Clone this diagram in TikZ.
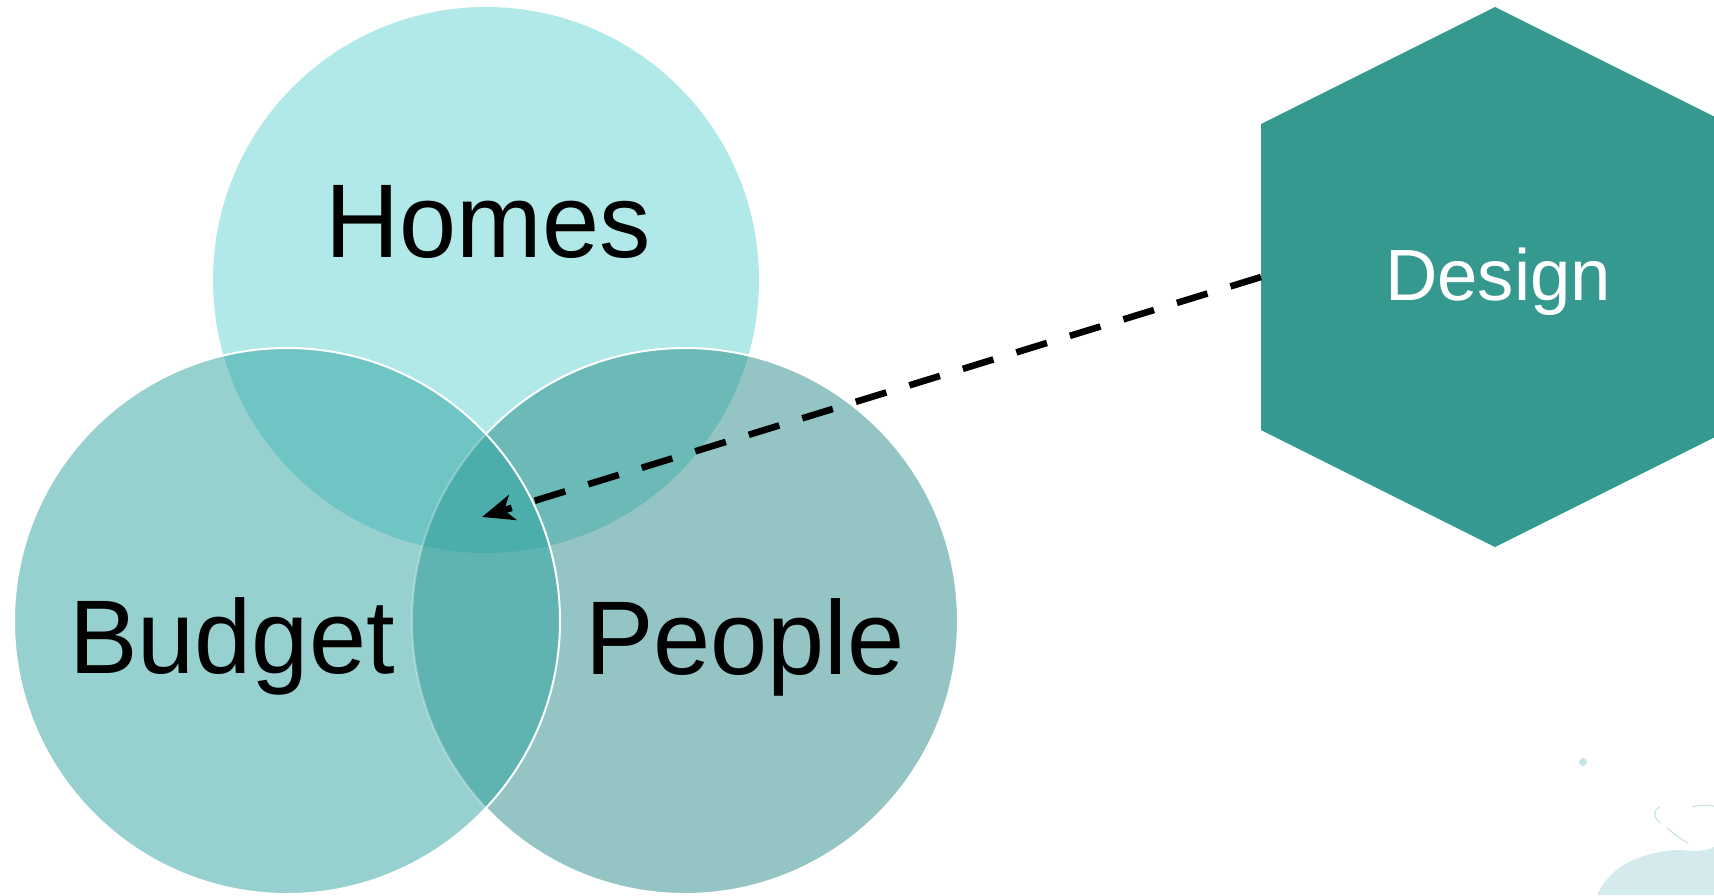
\documentclass[tikz,border=0pt]{standalone}
\usepackage{fontspec}
\setmainfont{Liberation Sans}
\usetikzlibrary{arrows.meta}
\definecolor{cH}{HTML}{B0E9E7}
\definecolor{cB}{HTML}{97D1CF}
\definecolor{cP}{HTML}{94C5C4}
\definecolor{cHB}{HTML}{6FC5C3}
\definecolor{cHP}{HTML}{6BBAB7}
\definecolor{cBP}{HTML}{5FB4B2}
\definecolor{cHBP}{HTML}{4BAEAA}
\definecolor{hexc}{HTML}{35998F}
\definecolor{splash}{HTML}{C6E3E6}
\tikzset{
  bigtext/.style={font=\fontsize{52.4}{60}\selectfont, text=black, inner sep=0pt, anchor=base, xscale=0.98},
  hextext/.style={font=\fontsize{36.3}{42}\selectfont, text=white, inner sep=0pt, anchor=base},
  rim/.style={draw=white, line width=1pt},
  connector/.style={line width=3.3pt, dash pattern=on 16pt off 12pt, -{Stealth[length=16pt,width=13pt,inset=4.5pt]}}
}
\begin{document}
\begin{tikzpicture}[x=0.5pt,y=-0.5pt]
\useasboundingbox (0,0) rectangle (1714,895);
\clip (0,0) rectangle (1714,895);
\coordinate (hC) at (486,280);
\coordinate (bC) at (287,621);
\coordinate (pC) at (685,621);
% circle fills
\fill[cH] (hC) circle[radius=273];
\fill[cB] (bC) circle[radius=273];
\fill[cP] (pC) circle[radius=273];
\begin{scope}
  \clip (hC) circle[radius=273];
  \fill[cHB] (bC) circle[radius=273];
  \fill[cHP] (pC) circle[radius=273];
\end{scope}
\begin{scope}
  \clip (bC) circle[radius=273];
  \fill[cBP] (pC) circle[radius=273];
  \clip (hC) circle[radius=273];
  \fill[cHBP] (pC) circle[radius=273];
\end{scope}
% outlines
\begin{scope}
  \clip (486,0) rectangle (1714,895);
  \draw[rim] (pC) circle[radius=273];
\end{scope}
\begin{scope}
  \clip (0,0) rectangle (486,895);
  \draw[draw=white, draw opacity=0.3, line width=1pt] (pC) circle[radius=273];
\end{scope}
\draw[rim] (bC) circle[radius=273];
% labels
\node[bigtext] (homes) at (488,257) {Homes};
\node[bigtext] (budget) at (232,673) {Budget};
\node[bigtext] (people) at (745,674) {People};
% hexagon
\fill[hexc] (1495,7) -- (1261,124) -- (1261,430) -- (1495,547) -- (1729,430) -- (1729,124) -- cycle;
\node[hextext] (design) at (1498,300) {Design};
\coordinate (hexw) at (1261,277);
\coordinate (tip) at (482,517);
\draw[connector] (hexw) -- (tip);
% watercolor splash
\fill[splash, opacity=0.75] (1597,895) .. controls (1603,882) and (1615,868) .. (1633,860)
  .. controls (1650,853) and (1665,850) .. (1680,850)
  .. controls (1692,851) and (1705,852) .. (1714,847) -- (1714,895) -- cycle;
\fill[splash] (1583,762) circle[radius=4];
\draw[splash, line width=0.6pt] (1660,807) .. controls (1652,810) and (1654,818) .. (1660,823);
\draw[splash, line width=0.6pt] (1667,828) .. controls (1675,835) and (1682,840) .. (1688,843);
\draw[splash, line width=0.6pt] (1692,807) .. controls (1700,805) and (1708,805) .. (1714,806);
\end{tikzpicture}
\end{document}
